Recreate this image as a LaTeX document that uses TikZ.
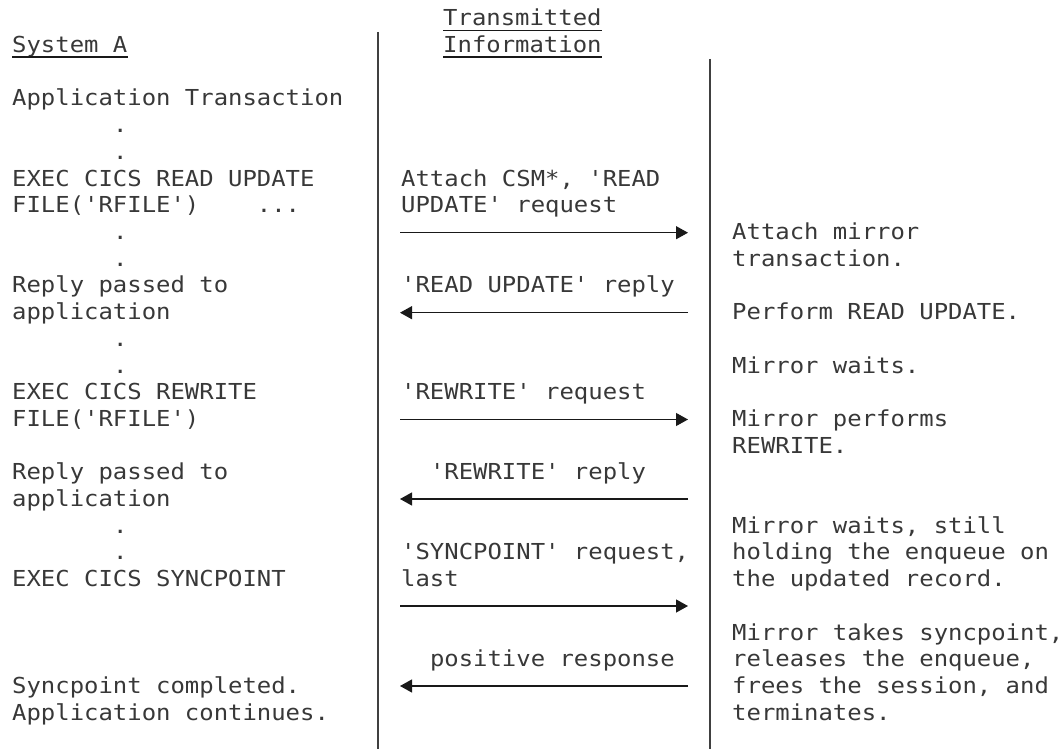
\documentclass[tikz,border=0pt]{standalone}
\usepackage{fontspec}
\setmonofont[FakeStretch=1.087]{DejaVu Sans Mono}
\usetikzlibrary{arrows.meta}
\begin{document}
\begin{tikzpicture}[x=1pt,y=-1pt,
  lbl/.style={anchor=base west, inner sep=0pt, text=black!78,
    font=\ttfamily\fontsize{22pt}{26.7pt}\selectfont},
  flow/.style={draw=black!90, line width=1.2pt, -{Triangle[length=12pt,width=13pt]}},
  rule/.style={draw=black!75, line width=1.3pt},
  uline/.style={draw=black!90, line width=1.7pt}]
\useasboundingbox (0,0) rectangle (1064,749);
% column rules
\coordinate (lt) at (378,32);  \coordinate (lb) at (378,749);
\coordinate (rt) at (710,59);  \coordinate (rb) at (710,749);
\draw[rule] (lt) -- (lb);
\draw[rule] (rt) -- (rb);
% headers
\node[lbl] (sysA) at (12,52.6) {System A};
\node[lbl] (hdrA) at (443,25.9) {Transmitted};
\node[lbl] (hdrB) at (443,52.6) {Information};
\foreach \n in {sysA,hdrA,hdrB}
  \draw[uline] ([yshift=-4.5pt]\n.base west) -- ([yshift=-4.5pt]\n.base east);
% left column
\node[lbl] (appTx) at (12,106) {Application Transaction};
\node[lbl] (d1) at (112.8,132.7) {.};
\node[lbl] (d2) at (112.8,159.4) {.};
\node[lbl] (readA) at (12,186.1) {EXEC CICS READ UPDATE};
\node[lbl] (readB) at (12,212.8) {FILE('RFILE')~~~~...};
\node[lbl] (d3) at (112.8,239.5) {.};
\node[lbl] (d4) at (112.8,266.2) {.};
\node[lbl] (repAa) at (12,292.9) {Reply passed to};
\node[lbl] (repAb) at (12,319.6) {application};
\node[lbl] (d5) at (112.8,346.3) {.};
\node[lbl] (d6) at (112.8,373) {.};
\node[lbl] (rwA) at (12,399.7) {EXEC CICS REWRITE};
\node[lbl] (rwB) at (12,426.4) {FILE('RFILE')};
\node[lbl] (repBa) at (12,479.8) {Reply passed to};
\node[lbl] (repBb) at (12,506.5) {application};
\node[lbl] (d7) at (112.8,533.2) {.};
\node[lbl] (d8) at (112.8,559.9) {.};
\node[lbl] (sync) at (12,586.6) {EXEC CICS SYNCPOINT};
\node[lbl] (doneA) at (12,693.4) {Syncpoint completed.};
\node[lbl] (doneB) at (12,720.1) {Application continues.};
% middle column
\node[lbl] (mAa) at (401,186.1) {Attach CSM*, 'READ};
\node[lbl] (mAb) at (401,212.8) {UPDATE' request};
\node[lbl] (mB) at (401,292.9) {'READ UPDATE' reply};
\node[lbl] (mC) at (401,399.7) {'REWRITE' request};
\node[lbl] (mD) at (429.8,479.8) {'REWRITE' reply};
\node[lbl] (mEa) at (401,559.9) {'SYNCPOINT' request,};
\node[lbl] (mEb) at (401,586.6) {last};
\node[lbl] (mF) at (429.8,666.7) {positive response};
% right column
\node[lbl] (rAa) at (732,239.5) {Attach mirror};
\node[lbl] (rAb) at (732,266.2) {transaction.};
\node[lbl] (rB) at (732,319.6) {Perform READ UPDATE.};
\node[lbl] (rC) at (732,373) {Mirror waits.};
\node[lbl] (rDa) at (732,426.4) {Mirror performs};
\node[lbl] (rDb) at (732,453.1) {REWRITE.};
\node[lbl] (rEa) at (732,533.2) {Mirror waits, still};
\node[lbl] (rEb) at (732,559.9) {holding the enqueue on};
\node[lbl] (rEc) at (732,586.6) {the updated record.};
\node[lbl] (rFa) at (732,640) {Mirror takes syncpoint,};
\node[lbl] (rFb) at (732,666.7) {releases the enqueue,};
\node[lbl] (rFc) at (732,693.4) {frees the session, and};
\node[lbl] (rFd) at (732,720.1) {terminates.};
% arrows
\coordinate (aL1) at (400,232.7); \coordinate (aR1) at (688,232.7);
\coordinate (aL2) at (400,312.7); \coordinate (aR2) at (688,312.7);
\coordinate (aL3) at (400,419.5); \coordinate (aR3) at (688,419.5);
\coordinate (aL4) at (400,499);   \coordinate (aR4) at (688,499);
\coordinate (aL5) at (400,606);   \coordinate (aR5) at (688,606);
\coordinate (aL6) at (400,686);   \coordinate (aR6) at (688,686);
\draw[flow] (aL1) -- (aR1);
\draw[flow] (aR2) -- (aL2);
\draw[flow] (aL3) -- (aR3);
\draw[flow] (aR4) -- (aL4);
\draw[flow] (aL5) -- (aR5);
\draw[flow] (aR6) -- (aL6);
\end{tikzpicture}
\end{document}
